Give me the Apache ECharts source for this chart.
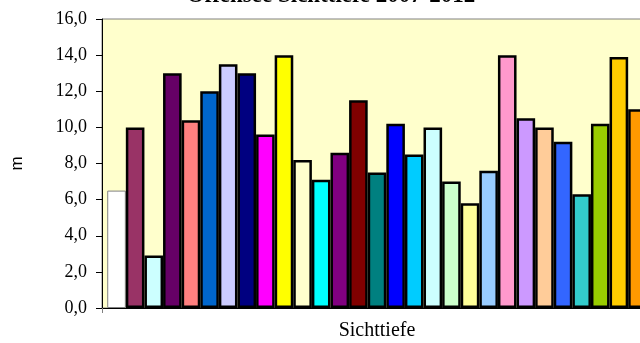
<!DOCTYPE html>
<html>
<head>
<meta charset="utf-8">
<script src="https://cdn.jsdelivr.net/npm/echarts@6/dist/echarts.min.js"></script>
<style>
html,body{margin:0;padding:0;overflow:hidden;background:#fff;}
#c{width:660px;height:343px;}
</style>
</head>
<body>
<div id="c"></div>
<script>
var titleText = "Offensee Sichttiefe 2007-2012";
var categories = ["Sichttiefe"];
var yAxisName = "m";
var yTicks = [0, 2, 4, 6, 8, 10, 12, 14, 16];
var seriesNames = ["Messung 1","Messung 2","Messung 3","Messung 4","Messung 5","Messung 6","Messung 7","Messung 8","Messung 9","Messung 10","Messung 11","Messung 12","Messung 13","Messung 14","Messung 15","Messung 16","Messung 17","Messung 18","Messung 19","Messung 20","Messung 21","Messung 22","Messung 23","Messung 24","Messung 25","Messung 26","Messung 27","Messung 28","Messung 29"];
var values = [6.5,10.0,2.9,13.0,10.4,12.0,13.5,13.0,9.6,14.0,8.2,7.1,8.6,11.5,7.5,10.2,8.5,10.0,7.0,5.8,7.6,14.0,10.5,10.0,9.2,6.3,10.2,13.9,11.0];

var palette = ['#FFFFFF','#993366','#CCFFFF','#660066','#FF8080','#0066CC','#CCCCFF','#000080','#FF00FF','#FFFF00','#FFFFCC','#00FFFF','#800080','#800000','#008080','#0000FF','#00CCFF','#CCFFFF','#CCFFCC','#FFFF99','#99CCFF','#FF99CC','#CC99FF','#FFCC99','#3366FF','#33CCCC','#99CC00','#FFCC00','#FF9900'];

var series = values.map(function (v, i) {
  var first = i === 0;
  return {
    name: seriesNames[i],
    type: 'bar',
    data: [v],
    barGap: '0%',
    barCategoryGap: '1.9%',
    itemStyle: {
      color: palette[i],
      borderColor: first ? '#808080' : '#000000',
      borderWidth: first ? 1 : 2.5
    }
  };
});

var chart = echarts.init(document.getElementById('c'), null, {renderer: 'canvas'});
chart.setOption({
  animation: false,
  title: {
    text: titleText,
    left: 326,
    textAlign: 'center',
    top: -20,
    textStyle: {fontFamily: 'Liberation Serif', fontWeight: 'bold', fontSize: 23, color: '#000'}
  },
  grid: {
    left: 102, right: 8, top: 19, bottom: 35,
    show: true, backgroundColor: '#FFFFCC', borderColor: '#808080', borderWidth: 1
  },
  xAxis: {
    type: 'category',
    data: categories,
    axisLine: {lineStyle: {color: '#000', width: 1}},
    axisTick: {show: true, length: 5, lineStyle: {color: '#808080'}},
    axisLabel: {fontFamily: 'Liberation Serif', fontSize: 20, color: '#000', margin: 13}
  },
  yAxis: {
    type: 'value',
    min: yTicks[0],
    max: yTicks[yTicks.length - 1],
    interval: yTicks[1] - yTicks[0],
    name: yAxisName,
    nameLocation: 'middle',
    nameRotate: 90,
    nameGap: 76,
    nameTextStyle: {fontFamily: 'Liberation Sans', fontSize: 17, color: '#000'},
    axisLine: {show: true, lineStyle: {color: '#000', width: 1}},
    axisTick: {show: true, length: 6, lineStyle: {color: '#000'}},
    splitLine: {show: false},
    axisLabel: {
      fontFamily: 'Liberation Serif', fontSize: 18, color: '#000', margin: 15,
      formatter: function (v) { return v.toFixed(1).replace('.', ','); }
    }
  },
  series: series
});
</script>
</body>
</html>
